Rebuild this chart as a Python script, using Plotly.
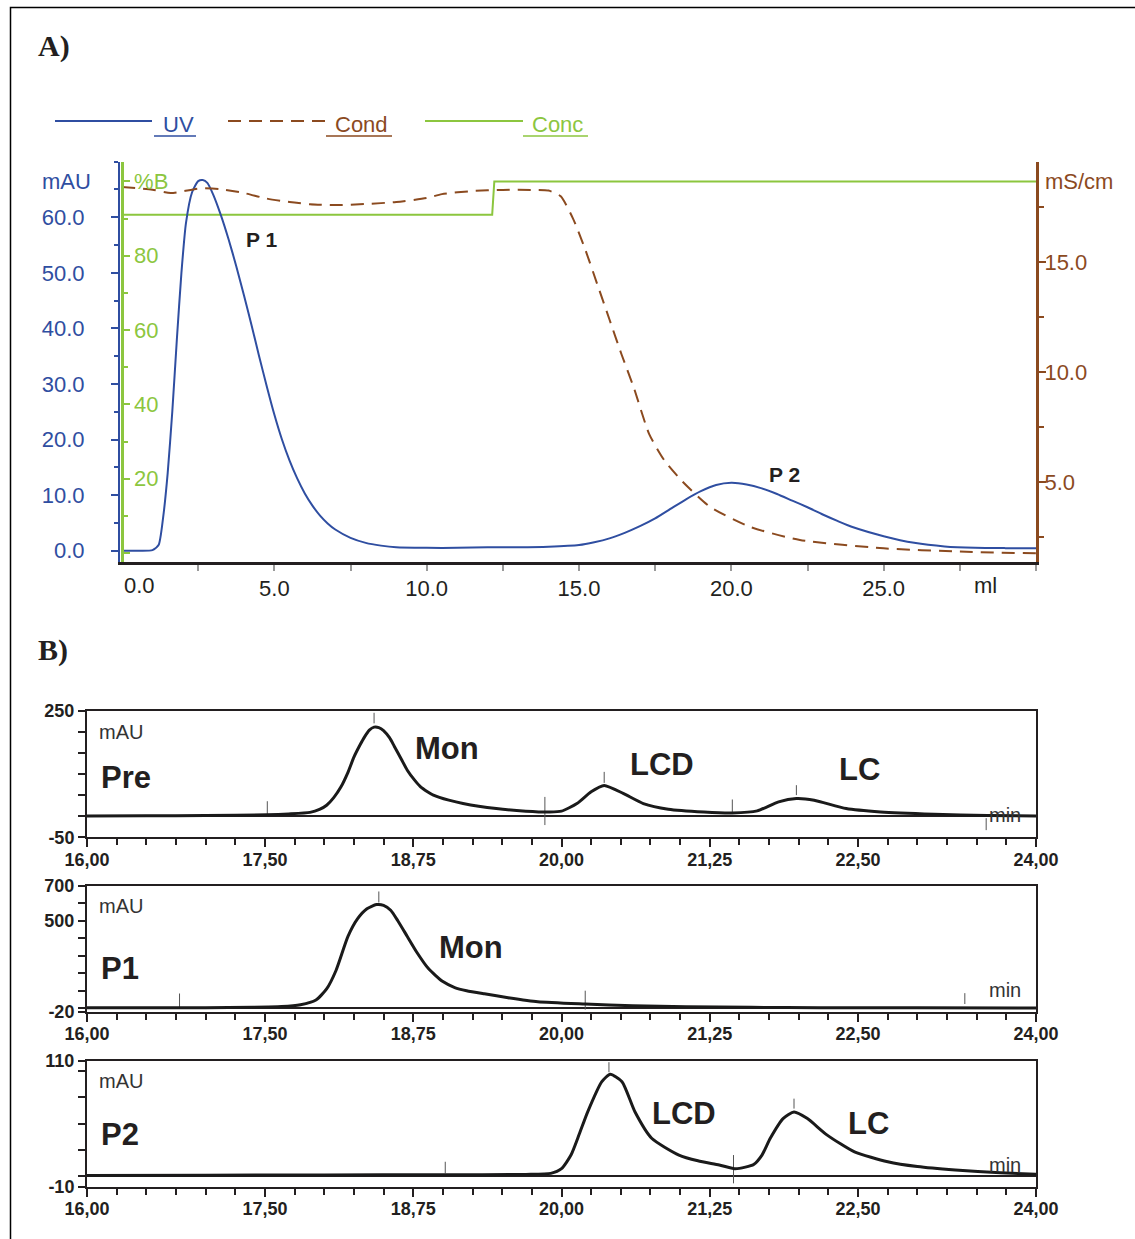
import plotly.graph_objects as go

# ---------------- DATA ----------------
# Panel A: preparative run (x in ml)
uv_ml = [0, 0.5, 1.0, 1.2, 1.35, 1.5, 1.65, 1.8, 1.95, 2.1, 2.3, 2.5, 2.65, 2.8, 3.0, 3.25, 3.5,
         3.75, 4.0, 4.25, 4.5, 4.75, 5.0, 5.25, 5.5, 5.75, 6.0, 6.25, 6.5, 6.75, 7.0, 7.5, 8.0, 8.5,
         9.0, 10, 11, 12, 13, 14, 15, 15.5, 16, 16.5, 17, 17.5, 18, 18.5, 19, 19.5, 20, 20.5, 21,
         21.5, 22, 22.5, 23, 23.5, 24, 25, 26, 27, 28, 29, 30]
uv_mau = [0, 0, 0.1, 1, 6, 14, 25, 38, 50, 59, 64.5, 66.5, 66.7, 66.2, 64.0, 60.3, 56.0,
          51.2, 46.0, 40.6, 35.0, 29.6, 24.5, 20.0, 16.2, 13.0, 10.3, 8.1, 6.3, 4.9, 3.8, 2.3, 1.4, 0.9,
          0.6, 0.5, 0.5, 0.6, 0.6, 0.7, 1.0, 1.5, 2.2, 3.2, 4.4, 5.8, 7.5, 9.2, 10.7, 11.8, 12.2, 11.9, 11.2,
          10.2, 9.0, 7.8, 6.5, 5.3, 4.2, 2.6, 1.4, 0.75, 0.5, 0.45, 0.45]

cond_ml = [0, 1.0, 1.6, 2.56, 3.2, 4.0, 4.74, 5.5, 6.17, 7.0, 8.0, 9.0, 10.0, 10.5, 11.5, 12.5,
           13.5, 14.0, 14.4, 14.8, 15.2, 15.6, 16.0, 16.4, 16.8, 17.3, 17.8, 18.4, 19.3, 20.6,
           22.25, 25.0, 27.5, 30.0]
cond_ms = [18.42, 18.3, 18.15, 18.36, 18.33, 18.15, 17.9, 17.74, 17.64, 17.6, 17.65, 17.74, 17.92,
           18.1, 18.24, 18.29, 18.29, 18.26, 18.0, 17.0, 15.6, 14.0, 12.4, 10.8, 9.3, 7.2, 6.0,
           5.03, 3.89, 2.98, 2.38, 2.0, 1.85, 1.77]

conc_ml = [0, 12.15, 12.22, 30]
conc_pct = [91, 91, 100, 100]

# Panel B: analytical chromatograms (x in min, y in mAU)
pre_t = [16.0, 16.5, 17.0, 17.52, 17.7, 17.88, 17.96, 18.02, 18.08, 18.14, 18.2, 18.25, 18.3, 18.34,
         18.38, 18.42, 18.46, 18.5, 18.55, 18.59, 18.65, 18.7, 18.76, 18.81, 18.87, 18.92, 19.05,
         19.17, 19.45, 19.7, 19.9, 20.0, 20.13, 20.25, 20.36, 20.52, 20.69,
         20.9, 21.2, 21.44, 21.65, 21.83, 21.98, 22.13, 22.4, 22.69, 23.14, 23.59, 24.0]
pre_v = [0.5, 0.8, 1.5, 3.5, 5.5, 9, 16, 26, 44, 69, 104, 140, 168, 188,
         204, 211, 210, 203, 186, 166, 135, 109, 86, 70, 58, 50, 38,
         30, 18, 12, 10, 12, 30, 58, 73, 54, 30,
         16.6, 10, 7.8, 12.6, 34, 42, 38, 18, 10, 4.7, 1.6, 0.5]

p1_t = [16.0, 16.5, 17.0, 17.4, 17.64, 17.8, 17.93, 18.02, 18.1, 18.2, 18.28, 18.36, 18.44, 18.5,
        18.56, 18.62, 18.7, 18.78, 18.88, 19.0, 19.1, 19.2, 19.35, 19.55, 19.8, 20.2, 20.6, 21.05,
        21.6, 22.18, 23.0, 24.0]
p1_v = [2, 2.5, 3, 5, 9, 20, 47, 110, 217, 410, 510, 568, 592, 588,
        560, 500, 410, 320, 225, 152, 118, 100, 82, 60, 37, 24, 14, 8.5,
        5, 3, 2, 1]

p2_t = [16.0, 17.0, 18.0, 19.0, 19.7, 19.91, 20.0, 20.08, 20.15, 20.22, 20.34, 20.41, 20.51,
        20.62, 20.76, 20.99, 21.15, 21.33, 21.46, 21.55, 21.62, 21.69, 21.76, 21.87, 21.96,
        22.07, 22.24, 22.47, 22.75, 23.0, 23.32, 23.7, 24.0]
p2_v = [0.5, 0.8, 1.0, 1.2, 1.5, 2.5, 7, 20, 40, 61, 90, 97, 90,
        61, 36, 20, 14.5, 10.5, 7, 8.5, 11, 20, 36, 55, 61,
        55, 39, 23, 13.6, 9, 5.7, 3, 1.6]

# integration marks (time, low, high)
pre_mark_t = [18.42, 20.36, 21.98, 17.52, 19.86, 21.44, 23.58]
pre_mark_lo = [220, 79, 50, 2.4, -21, 6.4, -33]
pre_mark_hi = [245, 105, 73.5, 35.5, 45.7, 39.6, -4.7]
p1_mark_t = [18.46, 16.78, 20.2, 23.4]
p1_mark_lo = [604, 5, -8, 24]
p1_mark_hi = [667, 84, 100, 86]
p2_mark_t = [20.40, 21.96, 19.02, 21.45]
p2_mark_lo = [99, 64.3, 2.6, -7]
p2_mark_hi = [108.6, 73.8, 13.6, 20]

a_xtick_vals = [0, 5, 10, 15, 20, 25]
a_xtick_text = ['', '5.0', '10.0', '15.0', '20.0', '25.0']
b_xtick_vals = [16, 17.5, 18.75, 20, 21.25, 22.5, 24]
b_xtick_text = ['16,00', '17,50', '18,75', '20,00', '21,25', '22,50', '24,00']

# ---------------- STYLE / GEOMETRY ----------------
W, H = 1135, 1239
def px(x): return x / W
def py(y): return 1 - y / H

BLUE = '#2f4ea1'
GREEN = '#8cc63f'
BROWN = '#8b4a1f'
INK = '#231f20'
FONT = 'Liberation Sans'

fig = go.Figure()

fig.add_trace(go.Scatter(x=conc_ml, y=conc_pct, xaxis='x', yaxis='y', mode='lines',
                         line=dict(color=GREEN, width=2), hoverinfo='skip'))
fig.add_trace(go.Scatter(x=uv_ml, y=uv_mau, xaxis='x', yaxis='y2', mode='lines',
                         line=dict(color=BLUE, width=2, shape='spline', smoothing=0.6), hoverinfo='skip'))
fig.add_trace(go.Scatter(x=cond_ml, y=cond_ms, xaxis='x', yaxis='y3', mode='lines',
                         line=dict(color=BROWN, width=2, dash='13px,8px', shape='spline', smoothing=0.6),
                         hoverinfo='skip'))

def marks(ts, lo, hi):
    xs, ys = [], []
    for t, a, b in zip(ts, lo, hi):
        xs += [t, t, None]
        ys += [a, b, None]
    return xs, ys

for t, v, mt, mlo, mhi, xa, ya in [
    (pre_t, pre_v, pre_mark_t, pre_mark_lo, pre_mark_hi, 'x2', 'y4'),
    (p1_t, p1_v, p1_mark_t, p1_mark_lo, p1_mark_hi, 'x3', 'y5'),
    (p2_t, p2_v, p2_mark_t, p2_mark_lo, p2_mark_hi, 'x4', 'y6'),
]:
    mx, my = marks(mt, mlo, mhi)
    fig.add_trace(go.Scatter(x=mx, y=my, xaxis=xa, yaxis=ya, mode='lines',
                             line=dict(color='#555555', width=1), hoverinfo='skip'))
    fig.add_trace(go.Scatter(x=t, y=v, xaxis=xa, yaxis=ya, mode='lines',
                             line=dict(color='#1a1a1a', width=3, shape='spline', smoothing=0.6),
                             hoverinfo='skip'))

# ---------------- AXES ----------------
layout = dict(
    width=W, height=H, autosize=False,
    margin=dict(l=0, r=0, t=0, b=0, pad=0, autoexpand=False),
    paper_bgcolor='white', plot_bgcolor='rgba(0,0,0,0)',
    showlegend=False,
    font=dict(family=FONT, color=INK),
)

layout['xaxis'] = dict(
    domain=[px(120), px(1036)], range=[-0.066, 30], anchor='y',
    showline=True, linecolor=INK, linewidth=3,
    ticks='outside', ticklen=6, tickwidth=2, tickcolor='#9a9a9a',
    tickvals=a_xtick_vals, ticktext=a_xtick_text, ticklabelstandoff=-2,
    minor=dict(dtick=2.5, tick0=0, ticks='outside', ticklen=6, tickwidth=2, tickcolor='#9a9a9a'),
    tickfont=dict(size=22, color=INK), showgrid=False, zeroline=False,
)
layout['yaxis'] = dict(
    domain=[py(562.3), py(161.7)], anchor='free', position=px(121.5), range=[-2.49, 105.3],
    showline=True, linecolor=GREEN, linewidth=3,
    ticks='inside', ticklen=6, tickwidth=2, tickcolor=GREEN,
    tickvals=[0, 20, 40, 60, 80, 100], ticktext=['0', '20', '40', '60', '80', '%B'],
    ticklabelposition='inside', ticklabelstandoff=6,
    minor=dict(dtick=10, tick0=0, ticks='inside', ticklen=4, tickwidth=2, tickcolor=GREEN),
    tickfont=dict(size=22, color=GREEN), showgrid=False, zeroline=False,
)
layout['yaxis2'] = dict(
    overlaying='y', side='left', anchor='x', range=[-2.1, 70],
    showline=True, linecolor=BLUE, linewidth=2,
    ticks='outside', ticklen=7, tickwidth=2, tickcolor=BLUE,
    tickvals=[0, 10, 20, 30, 40, 50, 60], tickformat='.1f', ticklabelstandoff=22,
    minor=dict(dtick=5, tick0=0, ticks='outside', ticklen=4, tickwidth=2, tickcolor=BLUE),
    tickfont=dict(size=22, color=BLUE), showgrid=False, zeroline=False,
)
layout['yaxis3'] = dict(
    overlaying='y', side='right', anchor='x', range=[1.364, 19.573],
    showline=True, linecolor=BROWN, linewidth=3,
    ticks='outside', ticklen=7, tickwidth=2, tickcolor=BROWN,
    tickvals=[5, 10, 15], ticktext=['5.0', '10.0', '15.0'], ticklabelstandoff=-6,
    minor=dict(dtick=2.5, tick0=0, ticks='outside', ticklen=5, tickwidth=2, tickcolor=BROWN),
    tickfont=dict(size=22, color=BROWN), showgrid=False, zeroline=False,
)

b_panels = [
    ('xaxis2', 'yaxis4', 'x2', 'y4', 710.7, 837.3, [-50, 250],
     [-50, 0, 50, 100, 150, 200, 250], ['-50', '', '', '', '', '', '250']),
    ('xaxis3', 'yaxis5', 'x3', 'y5', 885.7, 1011.7, [-20, 700],
     [-20, 0, 100, 200, 300, 400, 500, 600, 700], ['-20', '', '', '', '', '', '500', '', '700']),
    ('xaxis4', 'yaxis6', 'x4', 'y6', 1060.7, 1186.5, [-10, 110],
     [-10, 0, 25, 50, 75, 100, 110], ['-10', '', '', '', '', '', '110']),
]
for xk, yk, xs, ys, top, bot, yr, tv, tt in b_panels:
    layout[xk] = dict(
        domain=[px(87), px(1036)], range=[16, 24], anchor=ys,
        showline=True, mirror=True, linecolor=INK, linewidth=2,
        ticks='outside', ticklen=8, tickwidth=1.5, tickcolor=INK,
        tickvals=b_xtick_vals, ticktext=b_xtick_text, ticklabelstandoff=-3,
        minor=dict(dtick=0.25, tick0=16, ticks='outside', ticklen=6, tickwidth=1.5, tickcolor=INK),
        tickfont=dict(size=18, color=INK, weight='bold'), showgrid=False, zeroline=False,
    )
    layout[yk] = dict(
        domain=[py(bot), py(top)], range=yr, anchor=xs,
        showline=True, mirror=True, linecolor=INK, linewidth=2,
        ticks='outside', ticklen=7, tickwidth=1.5, tickcolor=INK,
        tickvals=tv, ticktext=tt,
        tickfont=dict(size=18, color=INK, weight='bold'), showgrid=False,
        zeroline=True, zerolinecolor=INK, zerolinewidth=1.5,
    )

fig.update_layout(**layout)

# ---------------- DECORATION ----------------
shapes = [
    dict(type='rect', xref='paper', yref='paper', x0=px(10.5), y0=py(1250), x1=px(1150), y1=py(7.5),
         line=dict(color='black', width=1.5)),
    # legend lines
    dict(type='line', xref='paper', yref='paper', x0=px(55), x1=px(152), y0=py(121), y1=py(121),
         line=dict(color=BLUE, width=2)),
    dict(type='line', xref='paper', yref='paper', x0=px(228), x1=px(327), y0=py(121), y1=py(121),
         line=dict(color=BROWN, width=2, dash='13px,8px')),
    dict(type='line', xref='paper', yref='paper', x0=px(425), x1=px(523), y0=py(121), y1=py(121),
         line=dict(color=GREEN, width=2)),
    # legend underlines
    dict(type='line', xref='paper', yref='paper', x0=px(154), x1=px(196), y0=py(136), y1=py(136),
         line=dict(color=BLUE, width=1.5)),
    dict(type='line', xref='paper', yref='paper', x0=px(326), x1=px(392), y0=py(136), y1=py(136),
         line=dict(color=BROWN, width=1.5)),
    dict(type='line', xref='paper', yref='paper', x0=px(523), x1=px(588), y0=py(136), y1=py(136),
         line=dict(color=GREEN, width=1.5)),
]

def ann(text, x, y, size, color=INK, bold=False, xanchor='left', family=FONT):
    return dict(text=text, xref='paper', yref='paper', x=px(x), y=py(y), xanchor=xanchor,
                yanchor='middle', showarrow=False,
                font=dict(family=family, size=size, color=color, weight='bold' if bold else 'normal'))

annotations = [
    ann('A)', 36, 46, 30, bold=True, family='Liberation Serif'),
    ann('B)', 36, 650, 30, bold=True, family='Liberation Serif'),
    ann('UV', 161, 125, 22, BLUE),
    ann('Cond', 333, 125, 22, BROWN),
    ann('Conc', 530, 125, 22, GREEN),
    ann('mAU', 40, 182, 22, BLUE),
    ann('mS/cm', 1043, 182, 22, BROWN),
    ann('0.0', 122, 585, 22, INK),
    ann('ml', 972, 585, 22, INK),
    ann('P 1', 244, 239, 21, INK, bold=True),
    ann('P 2', 767, 474, 21, INK, bold=True),
    # panel B
    ann('mAU', 97, 732, 20, '#333333'),
    ann('Pre', 99, 777, 31, INK, bold=True),
    ann('Mon', 413, 748, 31, INK, bold=True),
    ann('LCD', 628, 764, 31, INK, bold=True),
    ann('LC', 837, 769, 31, INK, bold=True),
    ann('min', 987, 815, 20, '#333333'),
    ann('mAU', 97, 906, 20, '#333333'),
    ann('P1', 99, 969, 31, INK, bold=True),
    ann('Mon', 437, 947, 31, INK, bold=True),
    ann('min', 987, 990, 20, '#333333'),
    ann('mAU', 97, 1081, 20, '#333333'),
    ann('P2', 99, 1134, 31, INK, bold=True),
    ann('LCD', 650, 1113, 31, INK, bold=True),
    ann('LC', 846, 1123, 31, INK, bold=True),
    ann('min', 987, 1165, 20, '#333333'),
]

fig.update_layout(shapes=shapes, annotations=annotations)
fig.write_html('out.html')
